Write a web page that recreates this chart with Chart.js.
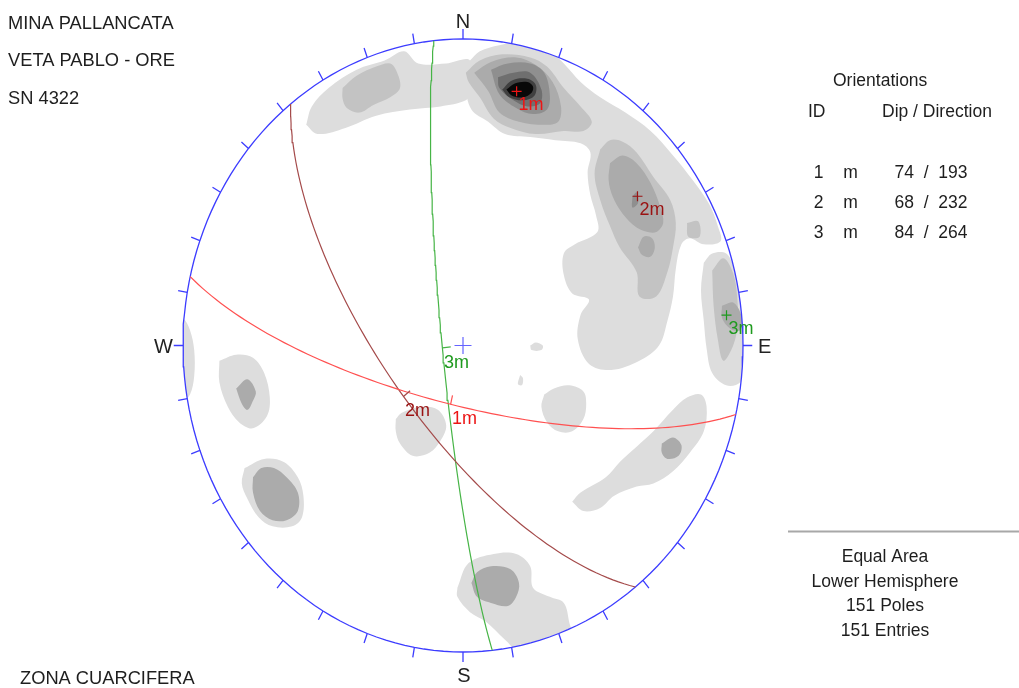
<!DOCTYPE html>
<html>
<head>
<meta charset="utf-8">
<script src="https://cdn.jsdelivr.net/npm/chart.js@4/dist/chart.umd.min.js"></script>
<style>
html,body{margin:0;padding:0;background:#fff;}
</style>
</head>
<body>
<canvas id="net" width="1019" height="688"></canvas>
<script>
// mean planes, dip / dip direction
const planeIds = ['1', '2', '3'];
const planeSets = ['m', 'm', 'm'];
const dips = [74, 68, 84];
const dipDirs = [193, 232, 264];
const circleColors = ['#ff5050', '#a44a4a', '#46b446'];
const labelColors = ['#ec1515', '#9a1212', '#1f9a1f'];

const titleLines = ['MINA PALLANCATA', 'VETA PABLO - ORE', 'SN 4322'];
const footLeft = 'ZONA CUARCIFERA';
const infoLines = ['Equal Area', 'Lower Hemisphere', '151 Poles', '151 Entries'];
const compass = ['N', 'E', 'S', 'W'];

// pole density contours, x = east, y = north, in % of the primitive radius
const levelColors = ['#dddddd', '#c3c3c3', '#ababab', '#8f8f8f', '#6f6f6f', '#404040', '#080808'];
const topBand = [[-56,72],[-54,78],[-48,84],[-38,90],[-28,93],[-21,96],[-16,92],[-6,92],[2.5,93],[3,83],[1,80],[-8,78],[-19,77],[-31,75],[-42,71],[-52,69]];
const northArc = [[2.5,93],[6,96],[13,98],[22,99],[31,96],[36,92],[42,86],[49,81],[58,76],[67,70],[75,62],[82,54],[88,46],[91,39],[92,34],[86,33],[81,35],[78,33],[76,25],[75,16],[73,8],[70,0],[63,-5],[53,-8],[45,-6],[41,2],[42,10],[45,15],[39,17],[36,23],[36,30],[40,33],[48,37],[47.5,42.5],[45.5,49],[44.5,56.5],[45.5,63],[42,66],[33,67],[24,68],[15,69],[9,73],[3,77],[1,85]];
const eastBlob = [[86,27],[89,30],[94,30],[97,25],[100,18],[101,8],[101,-5],[99,-12],[94,-13],[89,-9],[87,-1],[86,8],[85,18]];
const westStrip = [[-103,9],[-100,9],[-97.5,5],[-96,-1.5],[-96,-10],[-97.5,-16],[-100,-18],[-103,-18]];
const westBlob = [[-87,-5],[-81,-3],[-75,-4],[-71,-9],[-69,-17],[-70,-23],[-75,-27],[-80,-25],[-84,-20],[-87,-12]];
const swBlob = [[-78,-40],[-71,-37],[-64,-38],[-59,-43],[-57,-49],[-57.5,-56],[-61,-59],[-68,-59],[-73,-56],[-77,-50],[-79,-45]];
const midBlob = [[-24,-24],[-22,-22],[-15,-20],[-9,-21],[-6,-26],[-8,-31],[-12,-35],[-18,-36],[-22.5,-32],[-24,-28]];
const eastMid = [[29,-16],[32.5,-14],[38,-13],[43,-15],[44,-19],[43,-24],[39,-28],[34,-28],[30,-25],[28,-20]];
const seBand = [[39,-51],[42,-48],[51,-43],[56,-38],[62,-33],[68,-28],[75,-21],[80,-17],[85,-16],[87,-20],[86,-28],[81,-35],[75,-41],[68,-45],[62,-46],[54,-49],[49,-53],[43,-54]];
const southBlob = [[-2,-79],[2,-71],[11,-68],[19,-68],[24,-72],[25,-79],[31,-82],[36,-84],[38,-90.5],[40,-99],[24,-103],[15,-96],[8,-90],[2.5,-87],[-2,-82]];
const speckA = [[24,0],[26,1],[28.5,0],[28,-1.5],[24.5,-1.5]];
const speckB = [[20.4,-9.6],[21.4,-10.6],[21.1,-12.9],[19.6,-12.6]];
const nwPatch = [[-43,84],[-38,88],[-31,91],[-26,92],[-23.5,89],[-22.5,84],[-26,81],[-32,78.5],[-37,76],[-41.5,77.5],[-43,80.5]];
const peak2 = [[1,89],[6,93],[14,95],[24,94],[30,91],[36,84],[42,78],[46,73],[43,70],[36,70],[26,69],[17,71],[11,74],[6,81],[2,86]];
const peak3 = [[4,89],[10,92.5],[19,94],[26,91.5],[32,86],[35,78],[34,73],[29,72],[20,73],[13,76],[9,83]];
const peak4 = [[10,90],[16,92],[24,92],[29,89],[31,82],[30,77],[25,75.5],[19,77.5],[13,82]];
const peak5 = [[12.5,87.5],[18,89],[24,89],[28,83.5],[27.5,79],[23,78],[18,80],[13,84]];
const peak6 = [[14,83.5],[17.5,86.5],[23,87],[26,85],[25.5,81.5],[21.5,80],[16.5,81]];
const peak7 = [[15.5,83.5],[18.5,85.5],[23,86],[25,84.5],[24.5,82.5],[21.5,81],[17.5,81.5]];
const band2 = [[49,64],[52.5,67],[57,66.5],[62,63],[68,55],[74,47.5],[76,40],[75,32],[73,24],[69,16],[63,16],[62,24],[56,32],[52.5,39],[49,47.5],[47,56]];
const band3 = [[52.5,59.5],[57,62],[62,59.5],[67,53],[70.5,45],[71.5,40],[69,37],[66,37],[62,38.5],[57,43],[53.5,48.5],[52,54]];
const band3b = [[62.5,32],[64.5,35.5],[67.5,35],[68.5,32],[67,29],[64,29.5]];
const band4 = [[60.5,48.5],[62,50],[62.5,46.5],[60.5,45]];
const square2 = [[80,40],[84,40.5],[84.5,35.5],[80.5,35.5]];
const eastBlob2 = [[89,24.5],[93,28.5],[96.5,23.5],[98,15],[98,6.5],[96.5,0],[93,-5],[91,2],[89.5,13]];
const eastBlob3 = [[92.5,13],[96.5,14],[99.5,9.5],[99,5],[95.5,5.5],[92.5,9]];
const westCore = [[-81,-14],[-77,-11],[-74,-15],[-75,-18],[-77,-21],[-79,-19]];
const swCore = [[-75,-43],[-72,-40],[-67.5,-40],[-63,-43],[-59,-48],[-59,-54],[-63,-57],[-68,-57],[-72.5,-54],[-75,-48]];
const seCore = [[71,-32],[75,-30],[78,-32.5],[77,-36],[73,-37],[71,-35]];
const southCore = [[3,-77.5],[5,-74],[10,-72],[17,-73],[20,-77.5],[19,-82],[16,-85],[10,-84],[5,-82]];

const contourSets = [
  [0, topBand], [0, northArc], [0, eastBlob], [0, westStrip], [0, westBlob], [0, swBlob],
  [0, midBlob], [0, eastMid], [0, seBand], [0, southBlob], [0, speckA], [0, speckB],
  [1, nwPatch], [1, peak2], [1, band2], [1, square2], [1, eastBlob2],
  [2, peak3], [2, band3], [2, band3b], [2, eastBlob3], [2, westCore], [2, swCore], [2, seCore], [2, southCore],
  [3, peak4], [3, band4], [4, peak5], [5, peak6], [6, peak7]
];

const rad = d => d * Math.PI / 180;
// equal-area lower hemisphere: direction cosines (north, east, down) -> plot
function project(n, e, d) {
  const k = 100 / Math.sqrt(1 + Math.max(d, -0.999));
  return {x: e * k, y: n * k};
}
function greatCircle(dip, dir) {
  const s = [Math.cos(rad(dir - 90)), Math.sin(rad(dir - 90)), 0];
  const v = [Math.cos(rad(dip)) * Math.cos(rad(dir)), Math.cos(rad(dip)) * Math.sin(rad(dir)), Math.sin(rad(dip))];
  const pts = [];
  for (let t = 0; t <= 180; t += 2) {
    const c = Math.cos(rad(t)), sn = Math.sin(rad(t));
    pts.push(project(c * s[0] + sn * v[0], c * s[1] + sn * v[1], c * s[2] + sn * v[2]));
  }
  return pts;
}
const poleOf = (dip, dir) => project(-Math.sin(rad(dip)) * Math.cos(rad(dir)), -Math.sin(rad(dip)) * Math.sin(rad(dir)), Math.cos(rad(dip)));
const dipPoint = (dip, dir) => project(Math.cos(rad(dip)) * Math.cos(rad(dir)), Math.cos(rad(dip)) * Math.sin(rad(dir)), Math.sin(rad(dip)));

const datasets = [];
contourSets.forEach(([lvl, pts]) => {
  const data = pts.map(p => ({x: p[0], y: p[1]}));
  data.push(data[0]);
  datasets.push({type: 'line', data, contour: true, fill: 'shape', backgroundColor: levelColors[lvl],
    borderWidth: 0, pointRadius: 0, tension: 0.35, order: 100 - lvl, clip: false});
});

// primitive circle and 10 degree ticks
const rim = [];
for (let a = 0; a <= 360; a += 2) rim.push({x: 100 * Math.sin(rad(a)), y: 100 * Math.cos(rad(a))});
const ticks = [];
for (let a = 0; a < 360; a += 10) {
  ticks.push({x: 100 * Math.sin(rad(a)), y: 100 * Math.cos(rad(a))});
  ticks.push({x: 103.3 * Math.sin(rad(a)), y: 103.3 * Math.cos(rad(a))});
  ticks.push({x: null, y: null});
}
datasets.push({type: 'line', data: rim, borderColor: '#3c3cff', borderWidth: 1.3, pointRadius: 0, order: 6, clip: false});
datasets.push({type: 'line', data: ticks, borderColor: '#3c3cff', borderWidth: 1.3, pointRadius: 0, spanGaps: false, order: 6, clip: false});

const poles = [], dipPts = [];
dips.forEach((dip, i) => {
  const dir = dipDirs[i];
  poles.push(poleOf(dip, dir));
  const p = dipPoint(dip, dir);
  dipPts.push(p);
  const r = Math.hypot(p.x, p.y), k = (r - 3) / r;
  datasets.push({type: 'line', data: greatCircle(dip, dir), borderColor: circleColors[i], borderWidth: 1.2, pointRadius: 0, order: 4, clip: false});
  datasets.push({type: 'line', data: [p, {x: p.x * k, y: p.y * k}], borderColor: circleColors[i], borderWidth: 1.2, pointRadius: 0, order: 3, clip: false});
  datasets.push({type: 'scatter', data: [poles[i]], pointStyle: 'cross', pointRadius: 5, borderColor: labelColors[i], borderWidth: 1.2, order: 2, clip: false});
});
// centre mark
datasets.push({type: 'scatter', data: [{x: 0, y: 0}], pointStyle: 'cross', pointRadius: 8.5, borderColor: '#6464ff', borderWidth: 1.2, order: 1, clip: false});

let contoursLeft = 0;
const stereoPlugin = {
  id: 'stereo',
  beforeDatasetsDraw(chart) {
    const {ctx, scales: {x, y}} = chart;
    contoursLeft = chart.data.datasets.filter(d => d.contour).length;
    const cx = x.getPixelForValue(0), cy = y.getPixelForValue(0);
    ctx.save();
    ctx.beginPath();
    ctx.ellipse(cx, cy, x.getPixelForValue(100) - cx, cy - y.getPixelForValue(100), 0, 0, Math.PI * 2);
    ctx.clip();
  },
  afterDatasetDraw(chart, args) {
    if (chart.data.datasets[args.index].contour && --contoursLeft === 0) chart.ctx.restore();
  },
  afterDatasetsDraw(chart) {
    const {ctx, scales: {x, y}} = chart;
    const px = v => x.getPixelForValue(v), py = v => y.getPixelForValue(v);
    ctx.save();
    ctx.font = '18px "Liberation Sans", Arial, sans-serif';
    ctx.textAlign = 'left';
    ctx.textBaseline = 'alphabetic';
    const tag = i => planeIds[i] + planeSets[i];
    poles.forEach((p, i) => {
      ctx.fillStyle = labelColors[i];
      ctx.fillText(tag(i), px(p.x) + 2, py(p.y) + 19);
      ctx.fillText(tag(i), px(dipPts[i].x) + 1.5, py(dipPts[i].y) + 20);
    });
    // compass letters
    ctx.fillStyle = '#222';
    ctx.font = '20px "Liberation Sans", Arial, sans-serif';
    ctx.textAlign = 'center';
    ctx.fillText(compass[0], px(0), py(100) - 11);
    ctx.fillText(compass[2], px(0) + 1, py(-100) + 30);
    ctx.textAlign = 'left';
    ctx.fillText(compass[1], px(100) + 15, py(0) + 7.5);
    ctx.textAlign = 'right';
    ctx.fillText(compass[3], px(-100) - 10, py(0) + 7.5);
    ctx.restore();
  },
  afterDraw(chart) {
    const ctx = chart.ctx;
    ctx.save();
    ctx.fillStyle = '#1e1e1e';
    ctx.font = '18.3px "Liberation Sans", Arial, sans-serif';
    ctx.textAlign = 'left';
    titleLines.forEach((t, i) => ctx.fillText(t, 8, 28.5 + i * 37.5));
    ctx.fillText(footLeft, 20, 683.5);

    ctx.font = '17.5px "Liberation Sans", Arial, sans-serif';
    ctx.fillText('Orientations', 833, 86);
    ctx.fillText('ID', 808, 116.5);
    ctx.fillText('Dip / Direction', 882, 116.5);
    ctx.textAlign = 'center';
    planeIds.forEach((id, i) => {
      const yb = 178 + i * 30.2;
      ctx.fillText(id, 818.5, yb);
      ctx.fillText(planeSets[i], 850.5, yb);
      ctx.fillText(dips[i] + '  /  ' + dipDirs[i], 931, yb);
    });
    infoLines.forEach((t, i) => ctx.fillText(t, 885, 562 + i * 24.7));

    ctx.strokeStyle = '#a8a8a8';
    ctx.lineWidth = 2;
    ctx.beginPath();
    ctx.moveTo(788, 531.5);
    ctx.lineTo(1019, 531.5);
    ctx.stroke();
    ctx.restore();
  }
};

new Chart(document.getElementById('net'), {
  type: 'scatter',
  data: {datasets},
  options: {
    responsive: false,
    animation: false,
    devicePixelRatio: 1,
    events: [],
    layout: {padding: {left: 183, right: 276, top: 39, bottom: 36}},
    scales: {
      x: {type: 'linear', min: -100, max: 100, display: false},
      y: {type: 'linear', min: -100, max: 100, display: false}
    },
    plugins: {legend: {display: false}, tooltip: {enabled: false}}
  },
  plugins: [stereoPlugin]
});
</script>
</body>
</html>
